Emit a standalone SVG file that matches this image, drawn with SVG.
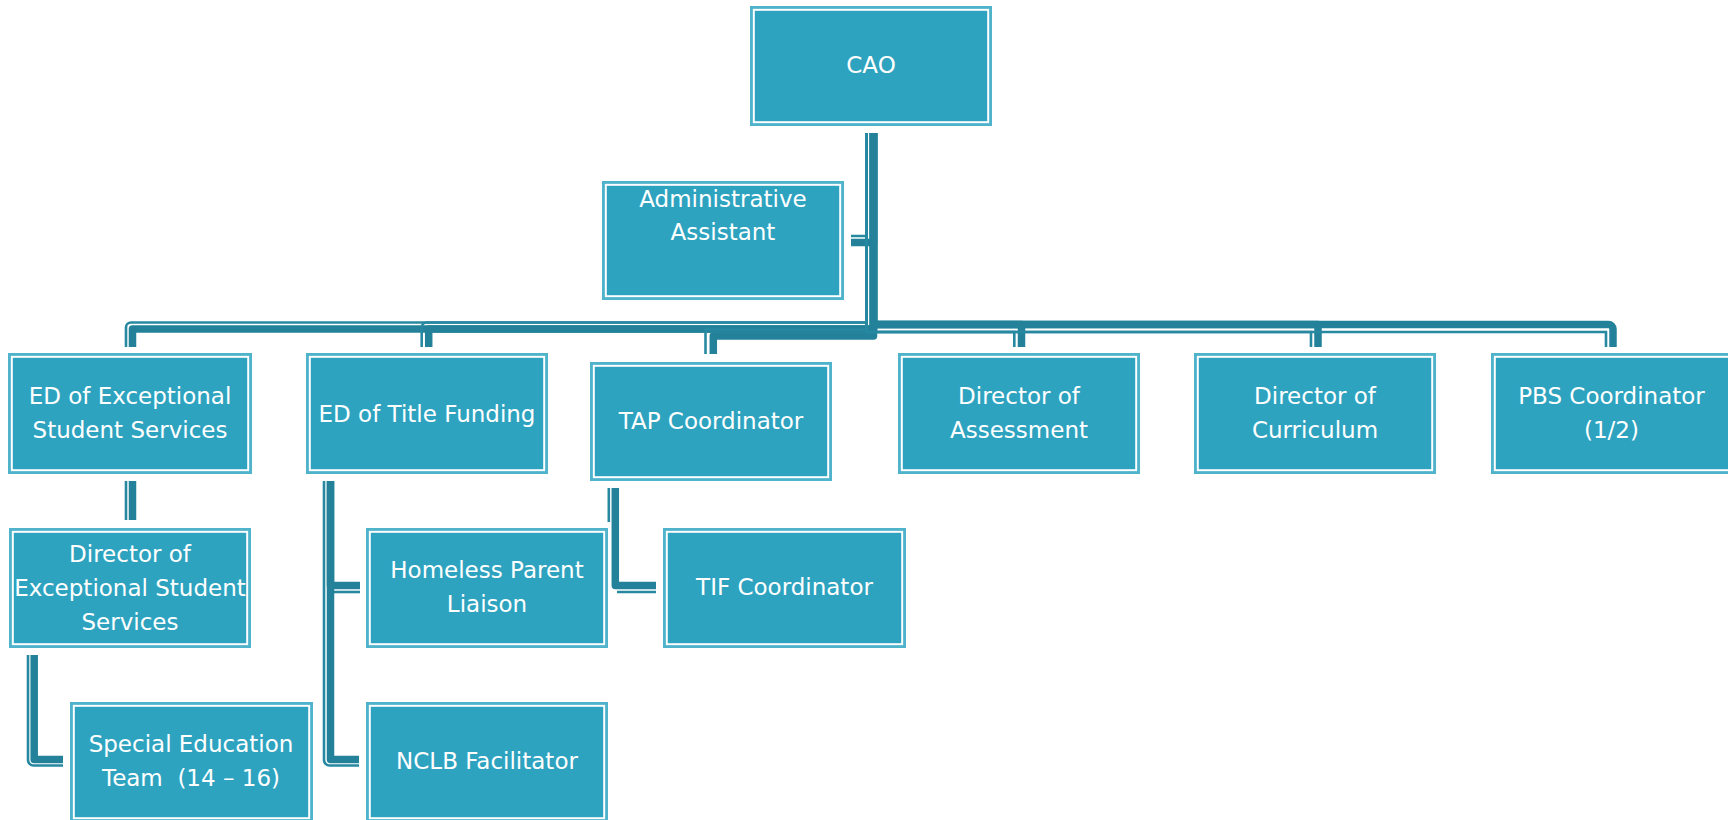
<svg xmlns="http://www.w3.org/2000/svg" width="1728" height="820" viewBox="0 0 1728 820">
  <style>
    .box { fill: #2ea3bf; stroke: #4fb4cb; stroke-width: 2.6; }
    .inner { fill: none; stroke: #ffffff; stroke-width: 2; }
    .label { font-family: "DejaVu Sans", "Liberation Sans", sans-serif; font-size: 23px; fill: #ffffff; text-anchor: middle; white-space: pre; }
    .thick { fill: none; stroke: #23829a; stroke-width: 7.5; stroke-linejoin: round; }
    .thin { fill: none; stroke: #2789a1; stroke-width: 2.6; }
  </style>
  <rect width="1728" height="820" fill="#ffffff"/>

  <!-- connectors: each link is a heavy rule with a fine rule running beside it -->
  <g id="connectors">
    <!-- CAO to Administrative Assistant -->
    <path class="thick" d="M873.5 133 V242.5 H851"/>
    <path class="thin" d="M866.5 133 V236 H851"/>
    <!-- CAO to ED of Exceptional Student Services -->
    <path class="thick" d="M873.5 133 V329 H132.5 V347"/>
    <path class="thin" d="M866.5 133 V322.5 H131 A5 5 0 0 0 126 327.5 V347"/>
    <!-- CAO to ED of Title Funding -->
    <path class="thick" d="M873.5 133 V329 H428.7 V347"/>
    <path class="thin" d="M866.5 133 V322.5 H426.7 A5 5 0 0 0 421.7 327.5 V347"/>
    <!-- CAO to TAP Coordinator -->
    <path class="thick" d="M873.5 133 V336 H713.3 V354"/>
    <path class="thin" d="M866.5 133 V329.5 H705.5 V354"/>
    <!-- CAO to Director of Assessment -->
    <path class="thick" d="M873.5 133 V324.5 H1021.5 V347"/>
    <path class="thin" d="M866.5 133 V332 H1014.3 V347"/>
    <!-- CAO to Director of Curriculum -->
    <path class="thick" d="M873.5 133 V324.5 H1318 V347"/>
    <path class="thin" d="M866.5 133 V332 H1311 V347"/>
    <!-- CAO to PBS Coordinator -->
    <path class="thick" d="M873.5 133 V324.5 H1608.5 A4.5 4.5 0 0 1 1613 329 V347"/>
    <path class="thin" d="M866.5 133 V332 H1606 V347"/>

    <!-- ED of Exceptional Student Services to Director of Exceptional Student Services -->
    <path class="thick" d="M132.5 481 V520"/>
    <path class="thin" d="M126 481 V520"/>
    <!-- Director of Exceptional Student Services to Special Education Team -->
    <path class="thick" d="M34.2 655 V759.5 H63"/>
    <path class="thin" d="M28 655 V760 A5.5 5.5 0 0 0 33.5 765.5 H63"/>
    <!-- ED of Title Funding to Homeless Parent Liaison -->
    <path class="thick" d="M330.5 481 V585.5 H360"/>
    <path class="thin" d="M334 592 H360"/>
    <!-- ED of Title Funding to NCLB Facilitator -->
    <path class="thick" d="M330.5 481 V759.5 H359"/>
    <path class="thin" d="M324 481 V760 A5.5 5.5 0 0 0 329.5 765.5 H359"/>
    <!-- TAP Coordinator to TIF Coordinator (fine rule tucked behind the liaison box) -->
    <path class="thick" d="M615.3 488 V585.5 H656"/>
    <path class="thin" d="M608.8 488 V522"/>
    <path class="thin" d="M617 592 H656"/>
  </g>

  <g id="cao">
    <rect class="box" x="751.3" y="7.3" width="239.4" height="117.4"/>
    <rect class="inner" x="753.8" y="9.8" width="234.4" height="112.4"/>
    <text class="label" x="871" y="73">CAO</text>
  </g>

  <g id="admin-assistant">
    <rect class="box" x="603.3" y="182.3" width="239.4" height="116.4"/>
    <rect class="inner" x="605.8" y="184.8" width="234.4" height="111.4"/>
    <text class="label" x="723" y="207">Administrative</text>
    <text class="label" x="723" y="240">Assistant</text>
  </g>

  <g id="ed-exceptional">
    <rect class="box" x="9.3" y="354.3" width="241.4" height="118.4"/>
    <rect class="inner" x="11.8" y="356.8" width="236.4" height="113.4"/>
    <text class="label" x="130" y="404">ED of Exceptional</text>
    <text class="label" x="130" y="438">Student Services</text>
  </g>

  <g id="ed-title-funding">
    <rect class="box" x="307.3" y="354.3" width="239.4" height="118.4"/>
    <rect class="inner" x="309.8" y="356.8" width="234.4" height="113.4"/>
    <text class="label" x="427" y="422">ED of Title Funding</text>
  </g>

  <g id="tap-coordinator">
    <rect class="box" x="591.3" y="363.3" width="239.4" height="116.4"/>
    <rect class="inner" x="593.8" y="365.8" width="234.4" height="111.4"/>
    <text class="label" x="711" y="429">TAP Coordinator</text>
  </g>

  <g id="director-assessment">
    <rect class="box" x="899.3" y="354.3" width="239.4" height="118.4"/>
    <rect class="inner" x="901.8" y="356.8" width="234.4" height="113.4"/>
    <text class="label" x="1019" y="404">Director of</text>
    <text class="label" x="1019" y="438">Assessment</text>
  </g>

  <g id="director-curriculum">
    <rect class="box" x="1195.3" y="354.3" width="239.4" height="118.4"/>
    <rect class="inner" x="1197.8" y="356.8" width="234.4" height="113.4"/>
    <text class="label" x="1315" y="404">Director of</text>
    <text class="label" x="1315" y="438">Curriculum</text>
  </g>

  <g id="pbs-coordinator">
    <rect class="box" x="1492.3" y="354.3" width="239.4" height="118.4"/>
    <rect class="inner" x="1494.8" y="356.8" width="234.4" height="113.4"/>
    <text class="label" x="1611.5" y="404">PBS Coordinator</text>
    <text class="label" x="1611.5" y="438">(1/2)</text>
  </g>

  <g id="director-ess">
    <rect class="box" x="10.3" y="529.3" width="239.4" height="117.4"/>
    <rect class="inner" x="12.8" y="531.8" width="234.4" height="112.4"/>
    <text class="label" x="130" y="562">Director of</text>
    <text class="label" x="130" y="596">Exceptional Student</text>
    <text class="label" x="130" y="630">Services</text>
  </g>

  <g id="homeless-liaison">
    <rect class="box" x="367.3" y="529.3" width="239.4" height="117.4"/>
    <rect class="inner" x="369.8" y="531.8" width="234.4" height="112.4"/>
    <text class="label" x="487" y="578">Homeless Parent</text>
    <text class="label" x="487" y="612">Liaison</text>
  </g>

  <g id="tif-coordinator">
    <rect class="box" x="664.3" y="529.3" width="240.4" height="117.4"/>
    <rect class="inner" x="666.8" y="531.8" width="235.4" height="112.4"/>
    <text class="label" x="784.5" y="595">TIF Coordinator</text>
  </g>

  <g id="special-ed-team">
    <rect class="box" x="71.3" y="703.3" width="240.4" height="117.4"/>
    <rect class="inner" x="73.8" y="705.8" width="235.4" height="112.4"/>
    <text class="label" x="191" y="752">Special Education</text>
    <text class="label" x="191" y="786">Team  (14 – 16)</text>
  </g>

  <g id="nclb-facilitator">
    <rect class="box" x="367.3" y="703.3" width="239.4" height="117.4"/>
    <rect class="inner" x="369.8" y="705.8" width="234.4" height="112.4"/>
    <text class="label" x="487" y="769">NCLB Facilitator</text>
  </g>
</svg>
